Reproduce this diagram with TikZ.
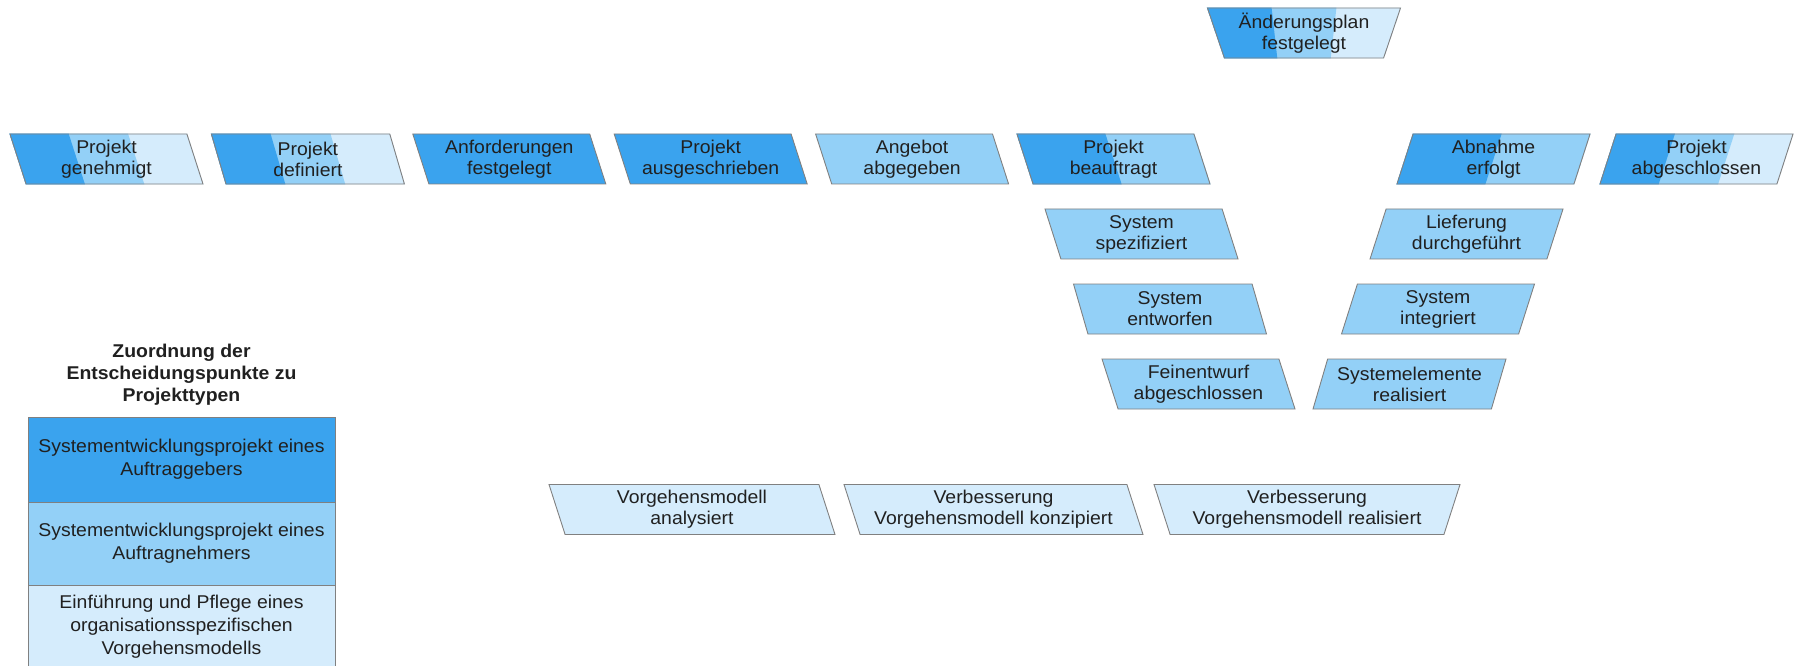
\documentclass[tikz,border=0pt]{standalone}
\usepackage{fontspec}
\setmainfont{Liberation Sans}[FakeStretch=1.05]
\usepackage{tikz}
\usetikzlibrary{shapes.geometric,positioning,backgrounds,calc}

\definecolor{ag}{HTML}{3AA3EE}
\definecolor{an}{HTML}{93D0F7}
\definecolor{org}{HTML}{D5ECFC}
\definecolor{rim}{HTML}{808080}
\definecolor{ink}{HTML}{202020}

% colour band inside an event shape, from its left side up to a fraction
\newcommand{\bandfill}[3]{%
  \fill[#3] (#1.top left corner) -- ($(#1.top left corner)!#2!(#1.top right corner)$)
    -- ($(#1.bottom left corner)!#2!(#1.bottom right corner)$) -- (#1.bottom left corner) -- cycle;}

\begin{document}
\begin{tikzpicture}[
    x=1pt, y=1pt,
    node distance=75pt,
    font=\fontsize{18.5}{21}\selectfont,
    evt/.style={
		trapezium,
		trapezium stretches body=true,
		draw=rim,
		line width=0.9pt,
		text=ink,
		align=center,
		inner sep=1pt,
		minimum width=193pt,
		minimum height=50pt
	},
    fallbox/.style={trapezium left angle=111.8, trapezium right angle=68.2},
    risebox/.style={trapezium left angle=68.2, trapezium right angle=111.8},
    cupbox/.style={trapezium left angle=111.8, trapezium right angle=111.8},
    typebox/.style={
		rectangle,
		draw=rim,
		line width=0.9pt,
		text=ink,
		align=center,
		outer sep=0pt,
		minimum width=307pt,
		font=\fontsize{18.5}{23}\selectfont
	}
  ]
  \useasboundingbox (0,0) rectangle (1795,665);

    % We start by placing the decision points
  \node [evt, fallbox] (pg) at (106.5,506) {Projekt\\genehmigt};
  \node [evt, fallbox, node distance=201.4pt, right of=pg] (pd) {Projekt\\definiert};
  \node [evt, fallbox, fill=ag, node distance=201.4pt, right of=pd] (af) {Anforderungen\\festgelegt};
  \node [evt, fallbox, fill=ag, node distance=201.4pt, right of=af] (pa) {Projekt\\ausgeschrieben};
  \node [evt, fallbox, fill=an, node distance=201.4pt, right of=pa] (ab) {Angebot\\abgegeben};
  \node [evt, fallbox, node distance=201.4pt, right of=ab] (pb) {Projekt\\beauftragt};

  \node [evt, risebox] (ae) at (1493.5,506) {Abnahme\\erfolgt};
  \node [evt, risebox, node distance=203pt, right of=ae] (pab) {Projekt\\abgeschlossen};

  \node [evt, cupbox] (ap) at (1304,632) {Änderungsplan\\festgelegt};

  % left arm of the V
  \node [evt, fallbox, fill=an, below of=pb, xshift=28pt] (ss) {System\\spezifiziert};
  \node [evt, fallbox, fill=an, below of=ss, xshift=28.5pt] (se) {System\\entworfen};
  \node [evt, fallbox, fill=an, below of=se, xshift=28.5pt] (fa) {Feinentwurf\\abgeschlossen};

  % right arm of the V
  \node [evt, risebox, fill=an, below of=ae, xshift=-27pt] (ld) {Lieferung\\durchgeführt};
  \node [evt, risebox, fill=an, below of=ld, xshift=-28.5pt] (si) {System\\integriert};
  \node [evt, risebox, fill=an, below of=si, xshift=-28.5pt] (sr) {Systemelemente\\realisiert};

  % process model row
  \node [evt, fallbox, fill=org, minimum width=286pt] (va) at (692,155.5) {Vorgehensmodell\\analysiert};
  \node [evt, fallbox, fill=org, minimum width=299pt] (vk) at (993.5,155.5) {Verbesserung\\Vorgehensmodell konzipiert};
  \node [evt, cupbox, fill=org, minimum width=306pt] (vr) at (1307,155.5) {Verbesserung\\Vorgehensmodell realisiert};

  % legend
  \node [align=center, text=ink, font=\bfseries\fontsize{18.5}{22}\selectfont] (title) at (181.5,290)
   {Zuordnung der\\Entscheidungspunkte zu\\Projekttypen};
  \node [typebox, fill=ag, minimum height=85pt] (lag) at (181.5,205.5) {Systementwicklungsprojekt eines\\Auftraggebers};
  \node [typebox, fill=an, minimum height=83pt, below=0pt of lag] (lan) {Systementwicklungsprojekt eines\\Auftragnehmers};
  \node [typebox, fill=org, minimum height=83pt, below=0pt of lan] (lorg) {Einführung und Pflege eines\\organisationsspezifischen\\Vorgehensmodells};

  % colour bands of the shared decision points
  \begin{scope}[on background layer]
    \foreach \n in {pg, pd, pab, ap} {
      \bandfill{\n}{1}{org}
      \bandfill{\n}{0.667}{an}
      \bandfill{\n}{0.333}{ag}
    }
    \foreach \n in {pb, ae} {
      \bandfill{\n}{1}{an}
      \bandfill{\n}{0.5}{ag}
    }
  \end{scope}

\end{tikzpicture}
\end{document}
